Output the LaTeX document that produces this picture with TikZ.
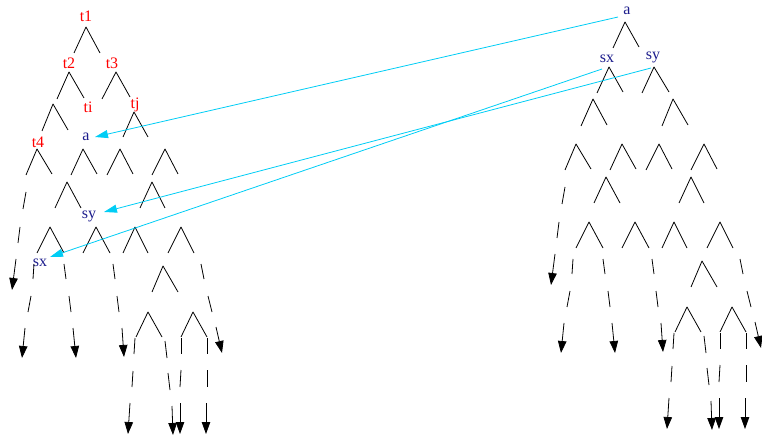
\documentclass[tikz,border=0pt]{standalone}
\usepackage{fontspec}
\setmainfont{Liberation Serif}
\usetikzlibrary{arrows.meta}
\definecolor{lblred}{RGB}{255,0,0}
\definecolor{lblblue}{RGB}{28,28,140}
\definecolor{linkcyan}{RGB}{0,205,245}
\tikzset{
  edge/.style={line width=0.8pt, black, line join=round},
  chainarrow/.style={line width=0.8pt, black, -{Triangle[length=12pt,width=8.5pt]}},
  link/.style={line width=0.8pt, linkcyan, -{Triangle[length=13pt,width=8pt]}},
  lbl/.style={inner sep=0pt, font=\fontsize{16}{16}\selectfont},
  redlbl/.style={lbl, text=lblred},
  bluelbl/.style={lbl, text=lblblue},
}
% a "wedge": apex and two leg ends, all named
\newcommand\wedges[2]{%
  \foreach \n/\ax/\ay/\lx/\ly/\rx/\ry in {#2} {
    \coordinate (#1\n) at (\ax,\ay);
    \coordinate (#1\n-l) at (\lx,\ly);
    \coordinate (#1\n-r) at (\rx,\ry);
    \draw[edge] (#1\n-l) -- (#1\n) -- (#1\n-r);
  }}
\newcommand\lowerpart[1]{%
  \wedges{#1}{A1/37/149/26/175/52/174, A2/83/149/71/175/97/174,
    A3/120/149/107/175/133/174, A4/165/149/152/175/178/174,
    B1/67/182/55/208/81/208, B2/152/182/140/208/165/208,
    C1/50/227/37/253/64/253, C2/96/227/83/253/110/253,
    C3/135/227/123/253/148/253, C4/181/227/168/253/194/253,
    D1/163/266/152/292/178/292,
    F1/148/312/136/337/162/337, F2/193/312/181/337/207/337}
  \foreach \n/\xa/\ya/\xb/\yb in {s1/26/192/23/209, s2/20/227/18/243,
    s3/34/264/33/279, s4/64/264/66/279, s5/113/264/115/279, s6/201/264/204/279,
    s7/31/296/28/312, s8/69/296/71/312, s9/117/296/119/312, s10/208/296/212/312,
    s11/135/338/134/354, s12/165/341/167/358, s13/181/338/181/354, s14/207/338/207/354,
    s15/133/371/132/387, s16/168/373/170/390, s17/181/370/180/387, s18/207/370/207/387} {
    \coordinate (#1\n-a) at (\xa,\ya);
    \coordinate (#1\n-b) at (\xb,\yb);
    \draw[edge] (#1\n-a) -- (#1\n-b);
  }
  \foreach \n/\xa/\ya/\xb/\yb in {r1/16/259/12/290,
    r2/25/328/22/358, r3/73/328/76/358, r4/122/328/124/357, r5/216/327/222/353,
    r6/130/403/128/434, r7/172/406/173/435, r8/180/403/180/434, r9/206/403/206/434} {
    \coordinate (#1\n-a) at (\xa,\ya);
    \coordinate (#1\n-b) at (\xb,\yb);
    \draw[chainarrow] (#1\n-a) -- (#1\n-b);
  }}
\begin{document}
\begin{tikzpicture}[x=1pt,y=-1pt]
\useasboundingbox (0,0) rectangle (762,435);
% ---------- left tree ----------
\node[redlbl] (t1) at (86,16) {t1};
\node[redlbl] (t2) at (69,63) {t2};
\node[redlbl] (t3) at (112,63) {t3};
\node[redlbl] (ti) at (88,107) {ti};
\node[redlbl] (tj) at (135,105) {tj};
\node[redlbl] (t4) at (38,142) {t4};
\node[bluelbl] (la) at (86,137) {a};
\node[bluelbl] (lsy) at (89,216) {sy};
\node[bluelbl] (lsx) at (40,263) {sx};
\wedges{L}{T1/86/27/74/53/100/53, T2/69/72/57/99/84/98, T3/116/72/102/99/130/97,
  U1/53/104/42/131/68/130, TJ/134/112/123/137/148/137}
\lowerpart{L}
% ---------- right tree ----------
\node[bluelbl] (ra) at (627,11) {a};
\node[bluelbl] (rsx) at (607,59) {sx};
\node[bluelbl] (rsy) at (653,57) {sy};
\wedges{R}{RA/625/22/613/48/639/47, RX/609/67/597/93/623/92, RY/654/67/642/93/669/92,
  RU1/593/99/581/126/607/125, RU2/673/99/662/126/688/125}
\begin{scope}[shift={(539,-5)}]
\lowerpart{R}
\end{scope}
% ---------- links ----------
\draw[link] ([shift={(-9,6)}]ra.center) -- ([shift={(9,0)}]la.center);
\draw[link] ([shift={(-2,11)}]rsy.center) -- ([shift={(15,-4)}]lsy.center);
\draw[link] ([shift={(-5,10)}]rsx.center) -- ([shift={(10,-6)}]lsx.center);
\end{tikzpicture}
\end{document}
